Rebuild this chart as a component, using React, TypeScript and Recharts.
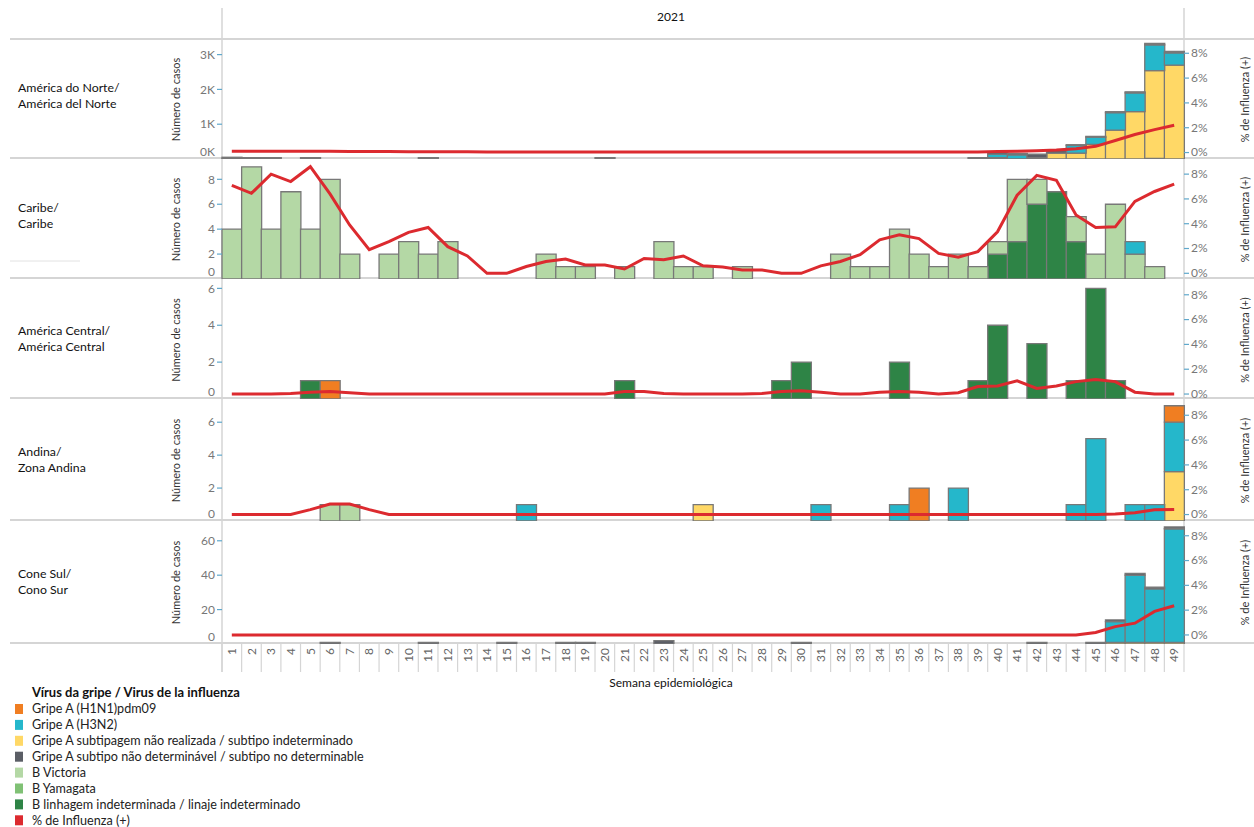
import React from 'react'
import { ComposedChart, Bar, Line, XAxis, YAxis } from 'recharts'

// semana epidemiológica
const weeks = [
  1, 2, 3, 4, 5, 6, 7, 8, 9, 10,
  11, 12, 13, 14, 15, 16, 17, 18, 19, 20,
  21, 22, 23, 24, 25, 26, 27, 28, 29, 30,
  31, 32, 33, 34, 35, 36, 37, 38, 39, 40,
  41, 42, 43, 44, 45, 46, 47, 48, 49,
]

// América do Norte / América del Norte (casos)
const naYellow = [
  0, 0, 0, 0, 0, 0, 0, 0, 0, 0,
  0, 0, 0, 0, 0, 0, 0, 0, 0, 0,
  0, 0, 0, 0, 0, 0, 0, 0, 0, 0,
  0, 0, 0, 0, 0, 0, 0, 0, 0, 40,
  0, 40, 170, 170, 420, 830, 1360, 2520, 2700,
]
const naH3N2 = [
  0, 0, 0, 0, 0, 0, 0, 0, 0, 0,
  0, 0, 0, 0, 0, 0, 0, 0, 0, 0,
  0, 0, 0, 0, 0, 0, 0, 0, 0, 0,
  0, 0, 0, 0, 0, 0, 0, 0, 0, 100,
  120, 0, 0, 220, 210, 500, 540, 740, 350,
]
const naGray = [
  30, 40, 40, 0, 40, 0, 0, 0, 0, 0,
  40, 0, 0, 0, 0, 0, 0, 0, 0, 40,
  0, 0, 0, 0, 0, 0, 0, 0, 0, 0,
  0, 0, 0, 0, 0, 0, 0, 0, 40, 60,
  40, 100, 70, 20, 20, 30, 30, 40, 40,
]
const naBLin = [
  20, 0, 0, 0, 0, 0, 0, 0, 0, 0,
  0, 0, 0, 0, 0, 0, 0, 0, 0, 0,
  0, 0, 0, 0, 0, 0, 0, 0, 0, 0,
  0, 0, 0, 0, 0, 0, 0, 0, 0, 0,
  0, 0, 0, 0, 0, 0, 0, 20, 0,
]
const naPct = [
  0.1, 0.1, 0.1, 0.1, 0.1, 0.1, 0.08, 0.08, 0.08, 0.07,
  0.07, 0.06, 0.06, 0.05, 0.05, 0.05, 0.05, 0.05, 0.05, 0.05,
  0.05, 0.05, 0.05, 0.05, 0.05, 0.05, 0.05, 0.05, 0.05, 0.05,
  0.04, 0.04, 0.04, 0.04, 0.04, 0.04, 0.04, 0.04, 0.05, 0.08,
  0.1, 0.15, 0.2, 0.3, 0.5, 0.97, 1.45, 1.85, 2.2,
]

// Caribe
const cbVic = [
  4, 9, 4, 7, 4, 8, 2, 0, 2, 3,
  2, 3, 0, 0, 0, 0, 2, 1, 1, 0,
  1, 0, 3, 1, 1, 0, 1, 0, 0, 0,
  0, 2, 1, 1, 4, 2, 1, 2, 1, 1,
  5, 2, 0, 2, 2, 6, 2, 1, 0,
]
const cbLin = [
  0, 0, 0, 0, 0, 0, 0, 0, 0, 0,
  0, 0, 0, 0, 0, 0, 0, 0, 0, 0,
  0, 0, 0, 0, 0, 0, 0, 0, 0, 0,
  0, 0, 0, 0, 0, 0, 0, 0, 0, 2,
  3, 6, 7, 3, 0, 0, 0, 0, 0,
]
const cH3N2 = [
  0, 0, 0, 0, 0, 0, 0, 0, 0, 0,
  0, 0, 0, 0, 0, 0, 0, 0, 0, 0,
  0, 0, 0, 0, 0, 0, 0, 0, 0, 0,
  0, 0, 0, 0, 0, 0, 0, 0, 0, 0,
  0, 0, 0, 0, 0, 0, 1, 0, 0,
]
const cPct = [
  7.1, 6.45, 8.0, 7.4, 8.6, 6.4, 3.9, 1.9, 2.55, 3.3,
  3.7, 2.15, 1.4, 0, 0, 0.55, 0.95, 1.15, 0.67, 0.67,
  0.35, 1.2, 1.1, 1.4, 0.6, 0.5, 0.27, 0.27, 0, 0,
  0.6, 0.95, 1.5, 2.7, 3.1, 2.8, 1.6, 1.3, 1.75, 3.35,
  6.3, 7.9, 7.5, 4.7, 3.7, 3.75, 5.8, 6.6, 7.2,
]

// América Central
const caBLin = [
  0, 0, 0, 0, 1, 0, 0, 0, 0, 0,
  0, 0, 0, 0, 0, 0, 0, 0, 0, 0,
  1, 0, 0, 0, 0, 0, 0, 0, 1, 2,
  0, 0, 0, 0, 2, 0, 0, 0, 1, 4,
  0, 3, 0, 1, 6, 1, 0, 0, 0,
]
const caH1N1 = [
  0, 0, 0, 0, 0, 1, 0, 0, 0, 0,
  0, 0, 0, 0, 0, 0, 0, 0, 0, 0,
  0, 0, 0, 0, 0, 0, 0, 0, 0, 0,
  0, 0, 0, 0, 0, 0, 0, 0, 0, 0,
  0, 0, 0, 0, 0, 0, 0, 0, 0,
]
const caPct = [
  0, 0, 0, 0.05, 0.15, 0.2, 0.1, 0, 0, 0,
  0, 0, 0, 0, 0, 0, 0, 0, 0, 0,
  0.2, 0.2, 0.05, 0, 0, 0, 0, 0.05, 0.2, 0.27,
  0.15, 0, 0, 0.15, 0.2, 0.15, 0, 0.1, 0.6, 0.65,
  1.07, 0.45, 0.65, 1.0, 1.17, 1.0, 0.15, 0, 0,
]

// Andina / Zona Andina
const anVic = [
  0, 0, 0, 0, 0, 1, 1, 0, 0, 0,
  0, 0, 0, 0, 0, 0, 0, 0, 0, 0,
  0, 0, 0, 0, 0, 0, 0, 0, 0, 0,
  0, 0, 0, 0, 0, 0, 0, 0, 0, 0,
  0, 0, 0, 0, 0, 0, 0, 0, 0,
]
const anYellow = [
  0, 0, 0, 0, 0, 0, 0, 0, 0, 0,
  0, 0, 0, 0, 0, 0, 0, 0, 0, 0,
  0, 0, 0, 0, 1, 0, 0, 0, 0, 0,
  0, 0, 0, 0, 0, 0, 0, 0, 0, 0,
  0, 0, 0, 0, 0, 0, 0, 0, 3,
]
const anH3N2 = [
  0, 0, 0, 0, 0, 0, 0, 0, 0, 0,
  0, 0, 0, 0, 0, 1, 0, 0, 0, 0,
  0, 0, 0, 0, 0, 0, 0, 0, 0, 0,
  1, 0, 0, 0, 1, 0, 0, 2, 0, 0,
  0, 0, 0, 1, 5, 0, 1, 1, 3,
]
const anH1N1 = [
  0, 0, 0, 0, 0, 0, 0, 0, 0, 0,
  0, 0, 0, 0, 0, 0, 0, 0, 0, 0,
  0, 0, 0, 0, 0, 0, 0, 0, 0, 0,
  0, 0, 0, 0, 0, 2, 0, 0, 0, 0,
  0, 0, 0, 0, 0, 0, 0, 0, 1,
]
const anPct = [
  0, 0, 0, 0, 0.4, 0.85, 0.85, 0.4, 0, 0,
  0, 0, 0, 0, 0, 0, 0, 0, 0, 0,
  0, 0, 0, 0, 0, 0, 0, 0, 0, 0,
  0, 0, 0, 0, 0, 0, 0, 0, 0, 0,
  0, 0, 0, 0, 0, 0.05, 0.15, 0.38, 0.4,
]

// Cone Sul / Cono Sur
const csGray = [
  0, 0, 0, 0, 0, 1, 0, 0, 0, 0,
  1, 0, 0, 0, 1, 0, 0, 1, 1, 0,
  0, 0, 2, 0, 0, 0, 0, 0, 0, 1,
  0, 0, 0, 0, 0, 0, 0, 0, 0, 0,
  0, 1, 0, 0, 1, 1, 1, 1, 1,
]
const csYellow = [
  0, 0, 0, 0, 0, 0, 0, 0, 0, 0,
  0, 0, 0, 0, 0, 0, 0, 0, 0, 0,
  0, 0, 0, 0, 0, 0, 0, 0, 0, 0,
  0, 0, 0, 0, 0, 0, 0, 0, 0, 0,
  0, 0, 0, 0, 0, 1, 1, 1, 1,
]
const csH3N2 = [
  0, 0, 0, 0, 0, 0, 0, 0, 0, 0,
  0, 0, 0, 0, 0, 0, 0, 0, 0, 0,
  0, 0, 0, 0, 0, 0, 0, 0, 0, 0,
  0, 0, 0, 0, 0, 0, 0, 0, 0, 0,
  0, 0, 0, 0, 0, 12, 39, 31, 66,
]
const csPct = [
  0, 0, 0, 0, 0, 0, 0, 0, 0, 0,
  0, 0, 0, 0, 0, 0, 0, 0, 0, 0,
  0, 0, 0, 0, 0, 0, 0, 0, 0, 0,
  0, 0, 0, 0, 0, 0, 0, 0, 0, 0,
  0, 0, 0, 0, 0.2, 0.67, 0.95, 1.9, 2.35,
]

const pctTicks = [0, 2, 4, 6, 8]

// stack order: first = bottom
const SERIES = [
  { key: 'bLin', name: 'B linhagem indeterminada / linaje indeterminado', color: '#2e8446' },
  { key: 'bYam', name: 'B Yamagata', color: '#80c175' },
  { key: 'bVic', name: 'B Victoria', color: '#b4d8a5' },
  { key: 'aNr', name: 'Gripe A subtipagem não realizada / subtipo indeterminado', color: '#ffd866' },
  { key: 'h3n2', name: 'Gripe A (H3N2)', color: '#25b7cb' },
  { key: 'h1n1', name: 'Gripe A (H1N1)pdm09', color: '#f07e22' },
  { key: 'aNd', name: 'Gripe A subtipo não determinável / subtipo no determinable', color: '#5b5e66' },
]
const LEGEND_ORDER = ['h1n1', 'h3n2', 'aNr', 'aNd', 'bVic', 'bYam', 'bLin']
const RED = '#dc2a2f'
const PCT_NAME = '% de Influenza (+)'

const W = 1254
const PLOT_L = 222
const PLOT_R = 1184
const BAND = (PLOT_R - PLOT_L) / weeks.length
const FONT = 'Lato, "Open Sans", sans-serif'
const TICK_BLUE = '#5fa8cc'
const SEP = '#d5d5d5'

const PANELS = [
  {
    name: ['América do Norte/', 'América del Norte'], top: 40, h: 119, labelY: 88,
    casesMax: 3420, casesTicks: [0, 1000, 2000, 3000], fmt: (v: number) => `${v / 1000}K`,
    pctDomain: [-0.52, 9.07],
    series: { bLin: naBLin, aNr: naYellow, h3n2: naH3N2, aNd: naGray } as Record<string, number[]>,
    pct: naPct,
  },
  {
    name: ['Caribe/', 'Caribe'], top: 160, h: 119, labelY: 208,
    casesMax: 9.55, casesTicks: [0, 2, 4, 6, 8], fmt: (v: number) => `${v}`,
    pctDomain: [-0.46, 9.14],
    series: { bLin: cbLin, bVic: cbVic, h3n2: cH3N2 } as Record<string, number[]>,
    pct: cPct,
  },
  {
    name: ['América Central/', 'América Central'], top: 281, h: 118, labelY: 331,
    casesMax: 6.4, casesTicks: [0, 2, 4, 6], fmt: (v: number) => `${v}`,
    pctDomain: [-0.4, 9.11],
    series: { bLin: caBLin, h1n1: caH1N1 } as Record<string, number[]>,
    pct: caPct,
  },
  {
    name: ['Andina/', 'Zona Andina'], top: 400, h: 121, labelY: 452,
    casesMax: 7.35, casesTicks: [0, 2, 4, 6], fmt: (v: number) => `${v}`,
    pctDomain: [-0.52, 9.23],
    series: { bVic: anVic, aNr: anYellow, h3n2: anH3N2, h1n1: anH1N1 } as Record<string, number[]>,
    pct: anPct,
  },
  {
    name: ['Cone Sul/', 'Cono Sur'], top: 521, h: 123, labelY: 574,
    casesMax: 71.5, casesTicks: [0, 20, 40, 60], fmt: (v: number) => `${v}`,
    pctDomain: [-0.73, 9.19],
    series: { aNr: csYellow, h3n2: csH3N2, aNd: csGray } as Record<string, number[]>,
    pct: csPct,
  },
]

function CasesTick(props: any) {
  const { x, y, payload, fmt } = props
  const zero = payload.value === 0
  return (
    <g>
      {!zero && <line x1={x + 2} x2={x + 7} y1={y} y2={y} stroke={TICK_BLUE} strokeWidth={1.2} />}
      <text x={x} y={zero ? y - 7 : y} dy="0.35em" textAnchor="end"
        fontSize={12} fill="#777" fontFamily={FONT}>
        {fmt(payload.value)}
      </text>
    </g>
  )
}

function PctTick(props: any) {
  const { x, y, payload } = props
  return (
    <g>
      <line x1={x - 7} x2={x - 2} y1={y} y2={y} stroke={TICK_BLUE} strokeWidth={1.2} />
      <text x={x} y={y} dy="0.32em" textAnchor="start" fontSize={12} fill="#777" fontFamily={FONT}>
        {`${payload.value}%`}
      </text>
    </g>
  )
}

function WeekTick(props: any) {
  const { x, y, payload, index } = props
  const left = x - BAND / 2
  const right = x + BAND / 2
  return (
    <g>
      <line x1={left} x2={left} y1={y - 4} y2={y + 24} stroke={SEP} strokeWidth={1.2} />
      {index === weeks.length - 1 && (
        <line x1={right} x2={right} y1={y - 4} y2={y + 24} stroke={SEP} strokeWidth={1.2} />
      )}
      <text transform={`rotate(-90 ${x} ${y})`} x={x} y={y} dy="0.35em" textAnchor="end"
        fontSize={12} fill="#666" fontFamily={FONT}>
        {payload.value}
      </text>
    </g>
  )
}

function PanelChart({ p, last }: { p: (typeof PANELS)[number]; last: boolean }) {
  const data = weeks.map((w, i) => {
    const row: Record<string, number | string> = { week: String(w), pct: p.pct[i] }
    Object.keys(p.series).forEach((k) => {
      row[k] = p.series[k][i]
    })
    return row
  })
  const axisH = last ? 44 : 0

  return (
    <div style={{ position: 'absolute', left: 0, top: p.top }}>
      <ComposedChart width={W} height={p.h + axisH} data={data}
        margin={{ top: 0, right: 30, bottom: 0, left: 182 }} barCategoryGap={0} barGap={0}>
        <XAxis dataKey="week" hide={!last} height={axisH} interval={0} tickLine={false}
          axisLine={false} tickSize={0} tickMargin={4} tick={<WeekTick />} />
        <YAxis yAxisId="cases" domain={[0, p.casesMax]} ticks={p.casesTicks} allowDataOverflow
          interval={0} width={40} axisLine={false} tickLine={false} tickSize={5} tickMargin={2}
          tick={(t: any) => <CasesTick {...t} fmt={p.fmt} />} />
        <YAxis yAxisId="pct" orientation="right" domain={p.pctDomain} ticks={pctTicks}
          allowDataOverflow interval={0} width={40} axisLine={false} tickLine={false}
          tickSize={5} tickMargin={2} tick={<PctTick />} />
        {SERIES.filter((s) => p.series[s.key]).map((s) => (
          <Bar key={s.key} yAxisId="cases" dataKey={s.key} name={s.name} stackId="v"
            fill={s.color} stroke="#787878" strokeWidth={1.3} isAnimationActive={false} />
        ))}
        <Line yAxisId="pct" dataKey="pct" name={PCT_NAME} type="linear" stroke={RED}
          strokeWidth={3} dot={false} isAnimationActive={false} />
      </ComposedChart>
    </div>
  )
}

export default function App() {
  const bottoms = PANELS.map((p) => p.top + p.h - 1)
  const legendItems = LEGEND_ORDER.map((k) => SERIES.find((s) => s.key === k)!)

  return (
    <div style={{ position: 'absolute', left: 0, top: 0, width: W, height: 827, background: '#fff', fontFamily: FONT }}>
      <style>{'.recharts-surface { overflow: visible; }'}</style>
      <svg width={W} height={827} style={{ position: 'absolute', left: 0, top: 0 }} fontFamily={FONT}>
        <line x1={10} x2={W} y1={39} y2={39} stroke={SEP} strokeWidth={2} />
        {bottoms.map((y) => (
          <line key={y} x1={10} x2={W} y1={y} y2={y} stroke={SEP} strokeWidth={2} />
        ))}
        <line x1={PLOT_L} x2={PLOT_L} y1={8} y2={672} stroke={SEP} strokeWidth={1.5} />
        <line x1={PLOT_R} x2={PLOT_R} y1={8} y2={bottoms[bottoms.length - 1]} stroke={SEP} strokeWidth={1.5} />
        <line x1={10} x2={80} y1={261} y2={261} stroke="#e2e2e2" strokeWidth={1} />

        <text x={671} y={17} dy="0.35em" textAnchor="middle" fontSize={12} fill="#111">2021</text>

        {PANELS.map((p) => {
          const cy = p.top + p.h / 2
          return (
            <g key={p.name[0]}>
              <text x={18} y={p.labelY} dy="0.35em" fontSize={12.3} fill="#111">{p.name[0]}</text>
              <text x={18} y={p.labelY + 16} dy="0.35em" fontSize={12.3} fill="#111">{p.name[1]}</text>
              <text transform={`rotate(-90 176 ${cy})`} x={176} y={cy} dy="0.35em" textAnchor="middle"
                fontSize={11} fill="#333">Número de casos</text>
              <text transform={`rotate(-90 1245 ${cy})`} x={1245} y={cy} dy="0.35em" textAnchor="middle"
                fontSize={11} fill="#333">{PCT_NAME}</text>
            </g>
          )
        })}

        <text x={671} y={683} dy="0.35em" textAnchor="middle" fontSize={12} fill="#111">Semana epidemiológica</text>

        <text x={32} y={692} dy="0.35em" fontSize={13} fontWeight="bold" fill="#111">
          Vírus da gripe / Virus de la influenza
        </text>
        {legendItems.map((s, i) => (
          <g key={s.key}>
            <rect x={15} y={709 + i * 15.9 - 5} width={8} height={10} fill={s.color} />
            <text x={32} y={709 + i * 15.9} dy="0.35em" fontSize={12.6} fill="#222">{s.name}</text>
          </g>
        ))}
        <rect x={15} y={709 + 7 * 15.9 - 5} width={8} height={10} fill={RED} />
        <text x={32} y={709 + 7 * 15.9} dy="0.35em" fontSize={12.6} fill="#222">{PCT_NAME}</text>
      </svg>

      {PANELS.map((p, i) => (
        <PanelChart key={p.name[0]} p={p} last={i === PANELS.length - 1} />
      ))}
    </div>
  )
}
